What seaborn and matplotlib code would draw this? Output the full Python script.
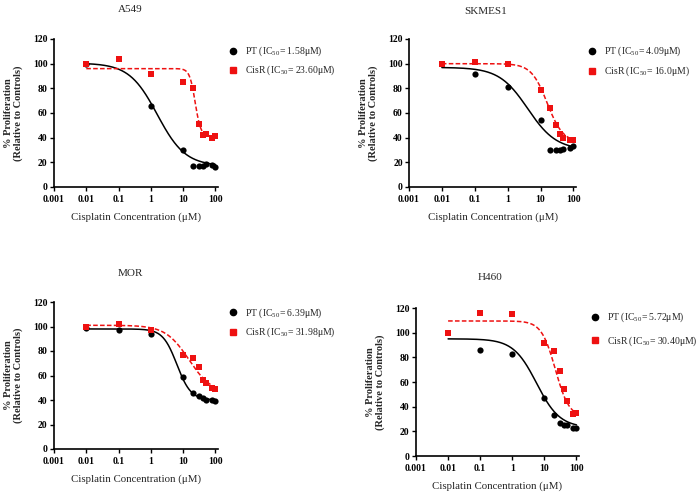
import numpy as np
import pandas as pd
import matplotlib
matplotlib.use("Agg")
import matplotlib.pyplot as plt
from matplotlib.lines import Line2D
import seaborn as sns

sns.set_theme(style="ticks")
plt.rcParams['font.family'] = ['Liberation Serif', 'DejaVu Serif']
plt.rcParams['mathtext.fontset'] = 'custom'
plt.rcParams['mathtext.rm'] = 'Liberation Serif'

# ---- data ----
conc = [0.01, 0.1, 1, 10, 20, 30, 40, 50, 80, 100]

panels = ["A549", "SKMES1", "MOR", "H460"]

a549_pt = [100, None, 66, 30, 17, 17, 17, 19, 18, 16]
a549_cisr = [100, 104, 92, 85, 80, 51, 42, 43, 40, 41]
skmes1_pt = [None, 92, 81, 54, 30, 30, 30, 31, 32, 33]
skmes1_cisr = [100, 101, 100, 79, 64, 50, 43, 40, 38, 38]
mor_pt = [99, 97, 94, 59, 46, 43, 42, 40, 40, 39]
mor_cisr = [100, 102, 97, 77, 74, 67, 56, 54, 50, 49]
h460_pt = [None, 86, 83, 47, 33, 27, 25, 25, 23, 23]
h460_cisr = [100, 116, 115, 92, 85, 69, 54, 45, 34, 35]

pt_values = [a549_pt, skmes1_pt, mor_pt, h460_pt]
cisr_values = [a549_cisr, skmes1_cisr, mor_cisr, h460_cisr]

pt_labels = ["PT (IC$_{50}$= 1.58μM)", "PT (IC$_{50}$= 4.09μM)",
             "PT (IC$_{50}$= 6.39μM)", "PT (IC$_{50}$= 5.72μM)"]
cisr_labels = ["CisR (IC$_{50}$= 23.60μM)", "CisR (IC$_{50}$= 16.0μM)",
               "CisR (IC$_{50}$= 31.98μM)", "CisR (IC$_{50}$= 30.40μM)"]

# fitted curve parameters: (top, bottom, EC50, hill)
pt_fit = [(100.5, 17, 1.58, 1.0), (97, 30, 4.09, 1.0),
          (98, 40, 6.39, 2.0), (95, 23, 5.72, 1.2)]
cisr_fit = [(96, 41, 23.6, 5.0), (100, 36, 16.0, 1.8),
            (101, 45, 15.0, 1.2), (109.5, 31, 22.0, 2.0)]

yticks = [0, 20, 40, 60, 80, 100, 120]
xticks = [0.001, 0.01, 0.1, 1, 10, 100]
xticklabels = ["0.001", "0.01", "0.1", "1", "10", "100"]

# ---- layout ----
W, H = 697, 496
fig = plt.figure(figsize=(W / 100, H / 100), dpi=100)
fig.patch.set_facecolor("white")

def px_axes(x0, x1, ytop, ybot):
    return [x0 / W, 1 - ybot / H, (x1 - x0) / W, (ybot - ytop) / H]

axes_px = [(54, 218, 39, 187), (409, 576, 39, 187),
           (54, 218, 302, 449), (416, 579, 308, 456)]
title_px = [(130, 10), (486, 11), (130, 273), (490, 278)]
legend_px = [(229, 45), (588, 45), (229, 306), (591, 311)]
legend_spacing = [0.55, 0.65, 0.65, 1.0]

curve_x = np.logspace(-2, 2, 300)
RED = "#ee1111"

def logistic(x, p):
    top, bot, ec, h = p
    return bot + (top - bot) / (1 + (x / ec) ** h)

for i, name in enumerate(panels):
    ax = fig.add_axes(px_axes(*axes_px[i]))
    df_pt = pd.DataFrame({"x": conc, "y": pt_values[i]}).dropna()
    df_cr = pd.DataFrame({"x": conc, "y": cisr_values[i]}).dropna()
    cdf_pt = pd.DataFrame({"x": curve_x, "y": logistic(curve_x, pt_fit[i])})
    cdf_cr = pd.DataFrame({"x": curve_x, "y": logistic(curve_x, cisr_fit[i])})

    sns.lineplot(data=cdf_pt, x="x", y="y", ax=ax, color="black", lw=1.1)
    sns.lineplot(data=cdf_cr, x="x", y="y", ax=ax, color=RED, lw=1.1,
                 linestyle=(0, (3, 1.5)))
    sns.scatterplot(data=df_pt, x="x", y="y", ax=ax, color="black", marker="o",
                    s=20, edgecolor="black", linewidth=0, zorder=3)
    sns.scatterplot(data=df_cr, x="x", y="y", ax=ax, color=RED, marker="s",
                    s=25, edgecolor=RED, linewidth=0, zorder=4)

    ax.set_xscale("log")
    ax.set_xlim(0.001, 120)
    ax.set_ylim(0, 120)
    ax.set_xticks(xticks)
    ax.set_xticklabels(xticklabels)
    ax.minorticks_off()
    ax.set_yticks(yticks)
    for sp in ["top", "right"]:
        ax.spines[sp].set_visible(False)
    for sp in ["left", "bottom"]:
        ax.spines[sp].set_linewidth(1.2)
        ax.spines[sp].set_color("black")
    ax.tick_params(axis="both", direction="out", length=3, width=1.0,
                   labelsize=7, colors="black")
    ax.tick_params(axis="x", pad=3)
    ax.tick_params(axis="y", pad=1.5)
    for lab in ax.get_xticklabels() + ax.get_yticklabels():
        lab.set_fontweight("bold")
    ax.set_xlabel("Cisplatin Concentration (μM)", fontsize=7.8,
                  fontweight="normal", labelpad=6)
    ax.set_ylabel("% Proliferation\n(Relative to Controls)", fontsize=7.5,
                  fontweight="bold", labelpad=7, linespacing=1.15)
    ax.set_facecolor("white")

    tx, ty = title_px[i]
    fig.text(tx / W, 1 - ty / H, name, ha="center", va="center", fontsize=8)

    handles = [Line2D([], [], color="black", marker="o", linestyle="none",
                      markersize=4.5),
               Line2D([], [], color=RED, marker="s", linestyle="none",
                      markersize=5)]
    lx, ly = legend_px[i]
    fig.legend(handles, [pt_labels[i], cisr_labels[i]], loc="upper left",
               bbox_to_anchor=(lx / W, 1 - ly / H), frameon=False,
               fontsize=7, handlelength=0.8, handletextpad=0.8,
               labelspacing=legend_spacing[i], borderaxespad=0, borderpad=0)

fig.savefig("out.png", dpi=100, facecolor="white")
